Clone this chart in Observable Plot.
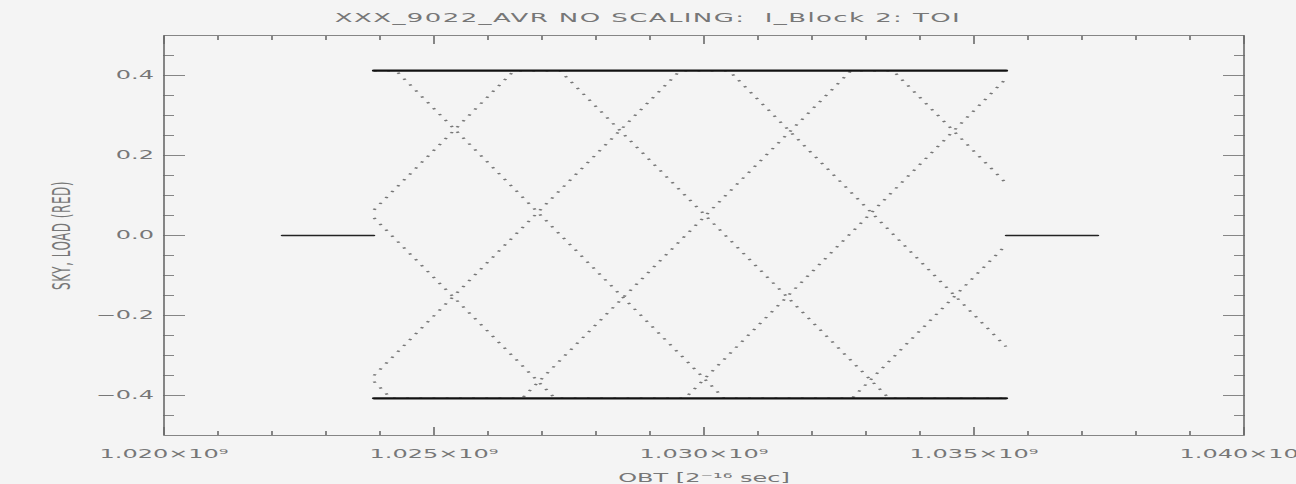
<!DOCTYPE html>
<html>
<head>
<meta charset="utf-8">
<script src="https://cdn.jsdelivr.net/npm/d3@7"></script>
<script src="https://cdn.jsdelivr.net/npm/@observablehq/plot@0.6"></script>
<style>
  html, body { margin: 0; padding: 0; background: #f4f4f4; overflow: hidden; }
  #wrap { position: relative; width: 648px; height: 484px; transform: scaleX(2); transform-origin: 0 0; }
  #title { position: absolute; top: 10px; left: 0; width: 648px; text-align: center;
           font: 13px "DejaVu Sans", sans-serif; color: #777; white-space: pre; letter-spacing: 0.7px; }
  #chart { position: absolute; top: 0; left: 0; }
  .ylab { letter-spacing: 0.5px; }
</style>
</head>
<body>
<div id="wrap">
  <div id="chart"></div>
  <div id="title">XXX_9022_AVR NO SCALING:  I_Block 2: TOI</div>
</div>
<script>
// ---- Data (OBT in 2^-16 s units, signal values) ----
const waveA_obt = [1023889000, 1024204000, 1026630000, 1032722000, 1033500000, 1035593000];
const waveA_val = [-0.365, -0.407, -0.407, 0.412, 0.412, 0.131];

const waveB_obt = [1023889000, 1027241000, 1029648000, 1035593000];
const waveB_val = [0.044, -0.407, -0.407, 0.392];

const waveC_obt = [1023889000, 1024296000, 1030370000, 1032741000, 1035593000];
const waveC_val = [0.412, 0.412, -0.407, -0.407, -0.024];

const waveD_obt = [1023889000, 1026481000, 1027333000, 1033426000, 1035593000];
const waveD_val = [0.064, 0.412, 0.412, -0.407, -0.407];

const waveE_obt = [1023889000, 1029556000, 1030463000, 1035593000];
const waveE_val = [-0.350, 0.412, 0.412, -0.278];

// saturated upper / lower levels
const satTop_obt = [1023889000, 1035593000];
const satTop_val = [0.412, 0.412];
const satBot_obt = [1023889000, 1035593000];
const satBot_val = [-0.407, -0.407];

// zero-level segments outside the scan
const zeroLeft_obt = [1022185000, 1023889000];
const zeroRight_obt = [1035593000, 1037296000];
const zero_val = [0, 0];

// ticks
const xMajor = [1.020e9, 1.025e9, 1.030e9, 1.035e9, 1.040e9];
const xMinor = d3.range(1020, 1041).map(v => v * 1e6).filter(v => !xMajor.includes(v));
const yMajor = [-0.4, -0.2, 0.0, 0.2, 0.4];
const yMinor = [-0.45, -0.35, -0.3, -0.25, -0.15, -0.1, -0.05, 0.05, 0.1, 0.15, 0.25, 0.3, 0.35, 0.45];

const yLabel = "SKY, LOAD (RED)";
const xLabel = "OBT [2\u207B\u00B9\u2076 sec]";

// ---- build tables ----
const toRows = (name, xs, ys) => xs.map((x, i) => ({series: name, obt: x, val: ys[i]}));
const waves = [
  ...toRows("A", waveA_obt, waveA_val),
  ...toRows("B", waveB_obt, waveB_val),
  ...toRows("C", waveC_obt, waveC_val),
  ...toRows("D", waveD_obt, waveD_val),
  ...toRows("E", waveE_obt, waveE_val)
];
const sat = [...toRows("top", satTop_obt, satTop_val), ...toRows("bot", satBot_obt, satBot_val)];
const zeros = [...toRows("L", zeroLeft_obt, zero_val), ...toRows("R", zeroRight_obt, zero_val)];

const fmtY = d => (d < 0 ? "\u2212" : "") + Math.abs(d).toFixed(1);
const fmtX = d => (d / 1e9).toFixed(3) + "\u00D710\u2079";

const font = "DejaVu Sans, sans-serif";
const tickColor = "#6a6a6a";
const textColor = "#777";

const chart = Plot.plot({
  width: 648,
  height: 484,
  marginLeft: 81.5,
  marginRight: 26.5,
  marginTop: 35,
  marginBottom: 49,
  x: {domain: [1.020e9, 1.040e9], axis: null},
  y: {domain: [-0.5, 0.5], axis: null},
  style: {background: "transparent", fontFamily: font, overflow: "visible"},
  marks: [
    Plot.frame({stroke: tickColor, strokeWidth: 0.8}),
    // ticks (inward)
    Plot.axisY(yMajor, {anchor: "left", tickSize: -11, text: null, label: null, stroke: tickColor, strokeWidth: 0.8}),
    Plot.axisY(yMinor, {anchor: "left", tickSize: -5.5, text: null, label: null, stroke: tickColor, strokeWidth: 0.8}),
    Plot.axisY(yMajor, {anchor: "right", tickSize: -11, text: null, label: null, stroke: tickColor, strokeWidth: 0.8}),
    Plot.axisY(yMinor, {anchor: "right", tickSize: -5.5, text: null, label: null, stroke: tickColor, strokeWidth: 0.8}),
    Plot.axisX(xMajor, {anchor: "bottom", tickSize: -8, text: null, label: null, stroke: tickColor, strokeWidth: 0.8}),
    Plot.axisX(xMinor, {anchor: "bottom", tickSize: -4, text: null, label: null, stroke: tickColor, strokeWidth: 0.8}),
    Plot.axisX(xMajor, {anchor: "top", tickSize: -8, text: null, label: null, stroke: tickColor, strokeWidth: 0.8}),
    Plot.axisX(xMinor, {anchor: "top", tickSize: -4, text: null, label: null, stroke: tickColor, strokeWidth: 0.8}),
    // tick labels
    Plot.axisY(yMajor, {anchor: "left", tickSize: 0, tickPadding: 5, tickFormat: fmtY, label: null, fill: textColor, fontSize: 12}),
    Plot.axisX(xMajor, {anchor: "bottom", tickSize: 0, tickPadding: 14, tickFormat: fmtX, label: null, fill: textColor, fontSize: 12}),
    // axis titles
    Plot.text([yLabel], {frameAnchor: "left", dx: -51, rotate: -90, textAnchor: "middle", lineAnchor: "middle", fill: textColor, fontSize: 12, className: "ylab"}),
    Plot.text([xLabel], {frameAnchor: "bottom", dy: 46, textAnchor: "middle", lineAnchor: "bottom", fill: textColor, fontSize: 12}),
    // data
    Plot.line(waves, {x: "obt", y: "val", z: "series", stroke: "#777", strokeWidth: 1.6, strokeDasharray: "1.4 5.2", strokeLinecap: "butt"}),
    Plot.line(zeros, {x: "obt", y: "val", z: "series", stroke: "#222", strokeWidth: 1.3}),
    Plot.line(sat, {x: "obt", y: "val", z: "series", stroke: "#111", strokeWidth: 2.2})
  ]
});
document.getElementById("chart").appendChild(chart);
</script>
</body>
</html>
